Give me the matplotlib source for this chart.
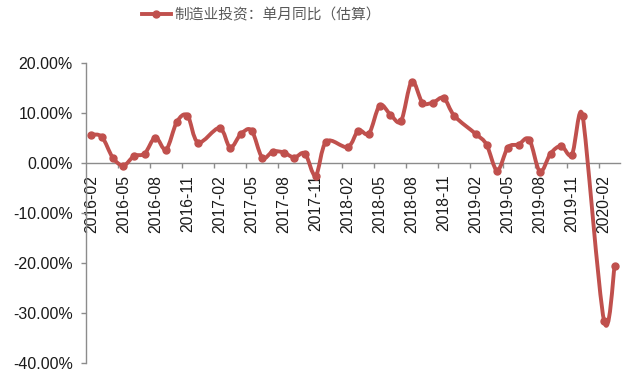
import matplotlib
matplotlib.use("Agg")
import numpy as np
import matplotlib.pyplot as plt
from matplotlib.ticker import FixedLocator, FuncFormatter
from matplotlib.path import Path
from matplotlib.patches import PathPatch

months = (
    [f"2016-{m:02d}" for m in range(2, 13)]
    + [f"2017-{m:02d}" for m in range(1, 13)]
    + [f"2018-{m:02d}" for m in range(1, 13)]
    + [f"2019-{m:02d}" for m in range(1, 13)]
    + [f"2020-{m:02d}" for m in range(1, 4)]
)

values = [
    5.7, 5.2, 1.1, -0.5, 1.4, 1.9, 5.1, 2.7, 8.2, 9.5, 4.1,              # 2016-02..12
    None, 7.0, 3.1, 5.8, 6.5, 1.1, 2.3, 2.1, 1.1, 1.9, -2.5, 4.3,        # 2017
    None, 3.2, 6.5, 5.9, 11.5, 9.7, 8.4, 16.3, 12.1, 12.1, 13.0, 9.4,    # 2018
    None, 5.8, 3.7, -1.5, 3.1, 3.7, 4.7, -1.7, 1.9, 3.4, 1.7, 9.4,       # 2019
    None, -31.5, -20.6,                                                  # 2020
]

series_name = "制造业投资：单月同比（估算）"
y_ticks = [20, 10, 0, -10, -20, -30, -40]

plt.rcParams["font.family"] = ["Liberation Sans", "DejaVu Sans"]

fig = plt.figure(figsize=(6.4, 3.84), dpi=100)
ax = fig.add_axes([86 / 640, 1 - 363 / 384, 534 / 640, 300 / 384])
ax.set_xlim(-0.5, len(months) - 0.5)
ax.set_ylim(-40, 20)

xs = [i for i, v in enumerate(values) if v is not None]
ys = [v for v in values if v is not None]
line_color = "#C0504D"
lw = 2.8

# smoothed line (Excel-style Bezier through the data points), built in display space
P = ax.transData.transform(np.column_stack([xs, ys]))
n = len(P)
tang = []
for k in range(n):
    a = P[k - 1] if k > 0 else P[k]
    b = P[k + 1] if k < n - 1 else P[k]
    t = (b - a) / 6.0
    segs = []
    if k > 0:
        segs.append(np.linalg.norm(P[k] - P[k - 1]))
    if k < n - 1:
        segs.append(np.linalg.norm(P[k + 1] - P[k]))
    lim = 0.5 * min(segs)
    L = np.linalg.norm(t)
    if L > lim and L > 0:
        t = t * lim / L
    tang.append(t)
verts = [P[0]]
codes = [Path.MOVETO]
for k in range(n - 1):
    verts += [P[k] + tang[k], P[k + 1] - tang[k + 1], P[k + 1]]
    codes += [Path.CURVE4] * 3
verts_data = ax.transData.inverted().transform(np.array(verts))
ax.add_patch(PathPatch(Path(verts_data, codes), facecolor="none",
                       edgecolor=line_color, lw=lw, joinstyle="round",
                       capstyle="round", zorder=3))
ax.plot(xs, ys, linestyle="none", marker="o", markersize=5, color=line_color,
        zorder=4)
ax.plot([], [], color=line_color, lw=lw, marker="o", markersize=5,
        label=series_name)

axis_gray = "#8c8c8c"
for s in ["top", "right"]:
    ax.spines[s].set_visible(False)
ax.spines["bottom"].set_position(("data", 0))
ax.spines["bottom"].set_color(axis_gray)
ax.spines["left"].set_color(axis_gray)
ax.spines["bottom"].set_linewidth(1.0)
ax.spines["left"].set_linewidth(1.0)

label_idx = list(range(0, len(months), 3))
ax.xaxis.set_major_locator(FixedLocator(label_idx))
ax.set_xticklabels([months[i] for i in label_idx], rotation=90, fontsize=11.3,
                   color="#1a1a1a")
ax.xaxis.set_minor_locator(FixedLocator([i - 0.5 for i in label_idx if i > 0]))
ax.tick_params(axis="x", which="major", length=0, pad=8.5)
ax.tick_params(axis="x", which="minor", length=3.6, width=1.0, color=axis_gray,
               direction="out")

ax.yaxis.set_major_locator(FixedLocator(y_ticks))
ax.yaxis.set_major_formatter(FuncFormatter(lambda v, p: f"{v:.2f}%"))
ax.tick_params(axis="y", length=3.6, width=1.0, color=axis_gray, labelsize=11.5,
               labelcolor="#1a1a1a", pad=6)

leg = fig.legend(loc="center", bbox_to_anchor=(261 / 640, 1 - 15 / 384),
                 frameon=False, handlelength=2.0, handletextpad=0.2,
                 borderpad=0, prop={"family": ["Noto Sans CJK SC", "DejaVu Sans"],
                                    "size": 10.6})
for t in leg.get_texts():
    t.set_color("#595959")

fig.savefig("out.png", dpi=100)
